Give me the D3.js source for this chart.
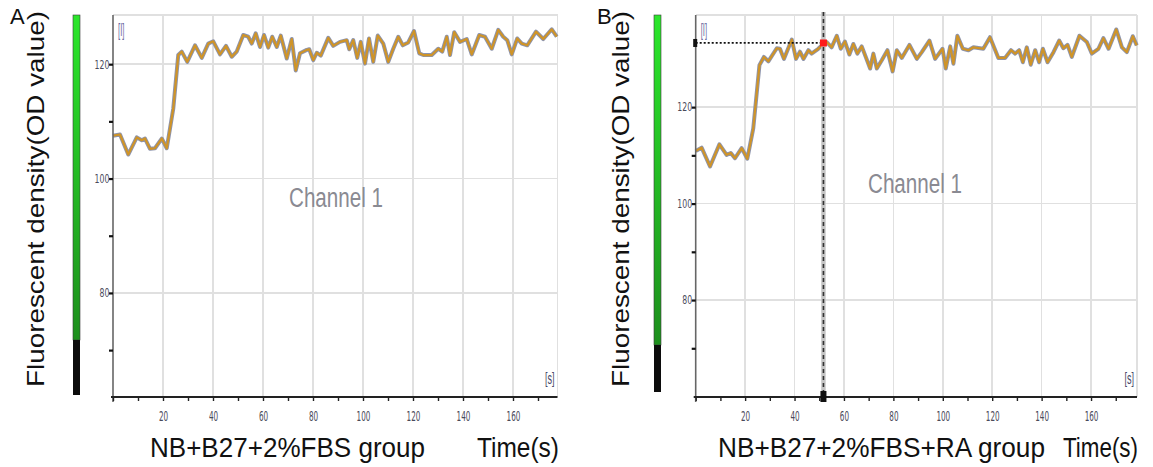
<!DOCTYPE html>
<html lang="en">
<head>
  <meta charset="UTF-8">
  <title>Fluorescent density - Channel 1</title>
  <script src="https://d3js.org/d3.v7.min.js"></script>
  <style>
    body { margin: 0; background: #fff; font-family: "Liberation Sans", Arial, sans-serif; }
    .grid line { stroke: #e0e0e0; stroke-width: 1.6px; shape-rendering: crispEdges; }
    .tick-lbl { font-family: "Liberation Sans Narrow", "DejaVu Sans Condensed", sans-serif; fill: #4a4a5a; }
  </style>
</head>
<body>
  <svg width="1153" height="467"></svg>
  <script>
    // time (s) / OD value, panel A
    const timeA = [0, 2.8, 6.1, 9.5, 11.5, 12.8, 14.8, 16.8, 19.5, 21.5, 24.1, 26.1, 27.5, 29.7, 32.8, 35.5, 38.1, 40.1,
      42.8, 45.2, 47.5, 49.5, 52.1, 54.1, 55.5, 57.1, 58.8, 60.4, 62.1, 63.7, 65.5, 67.1, 69.5, 71.5, 73.1, 74.8, 77.5,
      78.5, 80.1, 81.5, 83.1, 86.1, 88.1, 90.8, 93.5, 94.5, 96.1, 97.7, 99.1, 100.8, 102.4, 104.1, 105.9, 108.1, 110.1,
      112.1, 114.1, 115.9, 118.1, 120.4, 122.5, 124.1, 127.5, 130.1, 131.7, 133.5, 134.8, 136.5, 138.8, 141.5, 143.5,
      146.5, 148.8, 151.5, 154.1, 156.1, 157.7, 159.5, 161.7, 163.5, 165.7, 169.2, 172.1, 175.5, 177.5];
    const valueA = [107.5, 107.7, 104.2, 107.2, 106.7, 107.0, 105.2, 105.3, 107.0, 105.3, 112.2, 121.6, 122.2, 120.4, 123.3,
      121.1, 123.6, 124.0, 121.7, 123.2, 121.3, 122.2, 125.1, 124.8, 123.6, 125.4, 123.0, 125.1, 122.9, 124.8, 123.0,
      125.0, 121.0, 124.4, 118.9, 121.9, 122.5, 122.6, 120.7, 122.0, 121.5, 124.6, 123.2, 123.9, 124.2, 122.6, 124.2,
      121.1, 123.9, 120.1, 124.5, 120.4, 125.0, 123.6, 120.4, 122.7, 124.8, 123.3, 123.8, 125.8, 121.9, 121.6, 121.6,
      122.7, 122.2, 124.8, 121.6, 125.6, 123.9, 124.4, 121.7, 125.1, 124.8, 122.7, 126.0, 124.8, 124.2, 121.7, 124.5,
      123.6, 123.3, 125.7, 124.4, 126.1, 124.8];

    // panel B
    const timeB = [0, 2.4, 5.8, 9.6, 12.5, 14.2, 15.9, 18.6, 20.9, 23.3, 25.8, 27.6, 29.4, 32.8, 34.1, 35.7, 38.9, 40.6,
      42.2, 43.6, 45.6, 46.9, 49.6, 51.7, 53.0, 55.0, 57.1, 58.7, 60.4, 62.2, 63.8, 65.4, 67.2, 70.6, 71.9, 73.3, 75.3,
      77.6, 79.7, 81.4, 83.4, 86.5, 89.5, 91.5, 94.6, 96.9, 99.9, 101.2, 103.0, 104.3, 105.9, 108.1, 110.4, 112.4, 116.4,
      119.1, 122.5, 125.2, 127.6, 129.3, 130.9, 132.4, 134.0, 135.6, 137.4, 139.0, 140.5, 142.4, 144.8, 147.1, 148.8,
      150.5, 152.2, 155.3, 158.3, 160.3, 163.0, 165.0, 167.1, 170.2, 172.5, 174.5, 176.9, 178.5];
    const valueB = [110.9, 111.6, 107.7, 112.3, 110.1, 110.5, 109.4, 111.5, 109.3, 115.6, 128.7, 130.4, 129.5, 132.2, 132.1,
      130.0, 134.0, 130.0, 131.5, 130.0, 131.8, 131.1, 132.1, 133.1, 133.5, 132.4, 134.8, 132.1, 133.6, 130.9, 133.1,
      131.1, 132.6, 128.0, 131.1, 128.0, 129.7, 131.8, 127.4, 131.8, 130.2, 132.9, 130.0, 131.4, 133.8, 130.0, 132.1,
      128.0, 132.6, 129.0, 134.8, 132.1, 131.8, 132.4, 132.1, 134.5, 130.2, 130.2, 131.8, 131.1, 131.8, 129.3, 132.4,
      128.8, 131.8, 129.3, 132.1, 129.3, 131.4, 133.8, 132.2, 132.9, 130.4, 134.8, 133.5, 131.1, 132.1, 134.3, 132.1,
      136.1, 132.4, 131.4, 134.7, 132.8];

    // cursor in panel B (time, value)
    const cursorB = [51.7, 133.3];

    const xTicks = [0, 10, 20, 30, 40, 50, 60, 70, 80, 90, 100, 110, 120, 130, 140, 150, 160, 170];
    const xLabels = [20, 40, 60, 80, 100, 120, 140, 160];
    const yTicks = [70, 80, 90, 100, 110, 120];
    const yLabels = [80, 100, 120];

    const svg = d3.select("svg");

    const panels = [
      { letter: "A", group: "NB+B27+2%FBS group", times: timeA, values: valueA,
        left: 113, right: 557.5, top: 15, bottom: 397, xMax: 177.8, yDom: [61.8, 128.6],
        letterX: 10, barX: 73, barBlack: 340, barEnd: 395, ylabX: 44, chanX: 336, chanY: 207,
        groupX: 150, groupW: 275, timeX: 477, timeW: 82, cursor: null },
      { letter: "B", group: "NB+B27+2%FBS+RA group", times: timeB, values: valueB,
        left: 695.7, right: 1137, top: 15, bottom: 397, xMax: 178.6, yDom: [59.9, 139.1],
        letterX: 597, barX: 654, barBlack: 345, barEnd: 392, ylabX: 629, chanX: 915, chanY: 193,
        groupX: 718, groupW: 327, timeX: 1063, timeW: 75, cursor: cursorB }
    ];

    const grad = svg.append("defs").append("linearGradient")
      .attr("id", "barGrad").attr("x1", 0).attr("x2", 0).attr("y1", 0).attr("y2", 1);
    grad.append("stop").attr("offset", "0%").attr("stop-color", "#2be62b");
    grad.append("stop").attr("offset", "100%").attr("stop-color", "#1d8f1d");

    panels.forEach(p => {
      const x = d3.scaleLinear().domain([0, p.xMax]).range([p.left, p.right]);
      const y = d3.scaleLinear().domain(p.yDom).range([p.bottom, p.top]);
      const g = svg.append("g");

      // panel letter
      g.append("text").attr("x", p.letterX).attr("y", 24)
        .style("font-size", "22px").style("fill", "#111").text(p.letter);

      // colour bar
      g.append("rect").attr("x", p.barX).attr("y", 15).attr("width", 7).attr("height", p.barBlack - 15)
        .attr("fill", "url(#barGrad)").attr("stroke", "#3a3a3a").attr("stroke-width", 0.6);
      g.append("rect").attr("x", p.barX).attr("y", p.barBlack).attr("width", 7).attr("height", p.barEnd - p.barBlack)
        .attr("fill", "#0c0c0c");

      // y label
      g.append("text")
        .attr("transform", `translate(${p.ylabX},${(10 + 388) / 2}) rotate(-90)`)
        .attr("text-anchor", "middle")
        .attr("textLength", 376).attr("lengthAdjust", "spacingAndGlyphs")
        .style("font-size", "24px").style("fill", "#111")
        .text("Fluorescent density(OD value)");

      // grid
      const grid = g.append("g").attr("class", "grid");
      grid.selectAll(".vx").data(xLabels).join("line")
        .attr("x1", d => x(d)).attr("x2", d => x(d)).attr("y1", p.top).attr("y2", p.bottom);
      grid.selectAll(".hy").data(yLabels).join("line")
        .attr("x1", p.left).attr("x2", p.right).attr("y1", d => y(d)).attr("y2", d => y(d));
      grid.append("line").attr("x1", p.left).attr("x2", p.right).attr("y1", p.top).attr("y2", p.top);
      grid.append("line").attr("x1", p.right).attr("x2", p.right).attr("y1", p.top).attr("y2", p.bottom);

      // channel label
      g.append("text").attr("x", p.chanX).attr("y", p.chanY).attr("text-anchor", "middle")
        .attr("textLength", 94).attr("lengthAdjust", "spacingAndGlyphs")
        .style("font-size", "27px").style("fill", "#8a8a92").text("Channel 1");

      // [I] and [s] units
      g.append("text").attr("x", p.left + 5).attr("y", 36)
        .attr("transform", `translate(${p.left + 5},36) scale(0.55,1.3) translate(${-(p.left + 5)},-36)`)
        .style("font-size", "14px").style("fill", "#6a6aa0").text("[I]");
      g.append("text").attr("x", p.right - 3).attr("y", 384).attr("text-anchor", "end")
        .attr("transform", `translate(${p.right - 3},384) scale(0.7,1.25) translate(${-(p.right - 3)},-384)`)
        .style("font-size", "13px").style("fill", "#4a4a6a").text("[s]");

      // trace: bluish halo + orange core
      const pts = p.times.map((t, i) => [t, p.values[i]]);
      const line = d3.line().x(d => x(d[0])).y(d => y(d[1]));
      g.append("path").datum(pts).attr("d", line)
        .attr("fill", "none").attr("stroke", "#8d94ad").attr("stroke-width", 4).attr("stroke-linejoin", "round");
      g.append("path").datum(pts).attr("d", line)
        .attr("fill", "none").attr("stroke", "#cf9428").attr("stroke-width", 2.2).attr("stroke-linejoin", "round");

      // axes
      const yAxis = g.append("g").attr("transform", `translate(${p.left},0)`)
        .call(d3.axisLeft(y).tickValues(yTicks).tickSize(4)
          .tickFormat(d => yLabels.includes(d) ? d : ""));
      yAxis.select(".domain").attr("stroke", "#666").attr("stroke-width", 1.6)
        .attr("d", `M0,${p.top}V${p.bottom + 5}`);
      yAxis.selectAll(".tick line").attr("stroke", "#111").attr("stroke-width", 2.2);
      yAxis.selectAll(".tick text").attr("class", "tick-lbl").attr("x", -5)
        .style("font-size", "12px").attr("transform", "scale(0.72,1)");

      const xAxis = g.append("g").attr("transform", `translate(0,${p.bottom})`)
        .call(d3.axisBottom(x).tickValues(xTicks).tickSize(4)
          .tickFormat(d => xLabels.includes(d) ? d : ""));
      xAxis.select(".domain").attr("stroke", "#222").attr("stroke-width", 2)
        .attr("d", `M${p.left - 2},0H${p.right}`);
      xAxis.selectAll(".tick line").attr("stroke", "#222").attr("stroke-width", 1.4);
      xAxis.selectAll(".tick text").attr("class", "tick-lbl").attr("y", 12)
        .style("font-size", "13px").attr("transform", "scale(0.62,1.15)");

      // cursor
      if (p.cursor) {
        const cx = x(p.cursor[0]), cy = y(p.cursor[1]);
        g.append("line").attr("x1", cx).attr("x2", cx).attr("y1", p.top - 3).attr("y2", p.bottom + 4)
          .attr("stroke", "#c4c4c4").attr("stroke-width", 4.5);
        g.append("line").attr("x1", cx).attr("x2", cx).attr("y1", p.top - 3).attr("y2", p.bottom + 4)
          .attr("stroke", "#333").attr("stroke-width", 1.6).attr("stroke-dasharray", "4,3");
        g.append("line").attr("x1", p.left).attr("x2", cx).attr("y1", cy).attr("y2", cy)
          .attr("stroke", "#111").attr("stroke-width", 1.8).attr("stroke-dasharray", "2,2");
        g.append("rect").attr("x", p.left - 2.5).attr("y", cy - 4).attr("width", 4).attr("height", 8).attr("fill", "#111");
        g.append("rect").attr("x", cx - 3).attr("y", p.bottom - 6).attr("width", 6).attr("height", 11).attr("fill", "#111");
        g.append("rect").attr("x", cx - 3.5).attr("y", cy - 3.5).attr("width", 7).attr("height", 7).attr("fill", "#ff1a1a");
      }

      // bottom captions
      g.append("text").attr("x", p.groupX).attr("y", 457)
        .attr("textLength", p.groupW).attr("lengthAdjust", "spacingAndGlyphs")
        .style("font-size", "27px").style("fill", "#111").text(p.group);
      g.append("text").attr("x", p.timeX).attr("y", 457)
        .attr("textLength", p.timeW).attr("lengthAdjust", "spacingAndGlyphs")
        .style("font-size", "27px").style("fill", "#111").text("Time(s)");
    });
  </script>
</body>
</html>
